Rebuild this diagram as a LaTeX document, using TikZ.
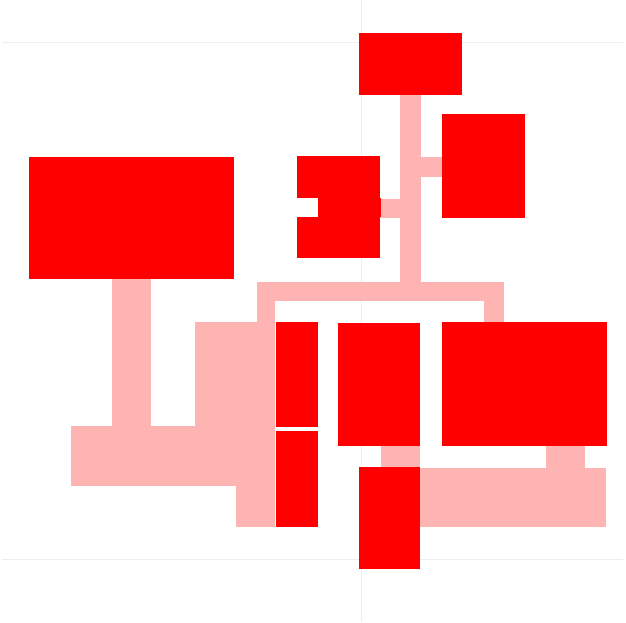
\documentclass[tikz,border=0pt]{standalone}
\usepackage{tikz}
\usepackage{xcolor}
\definecolor{roomred}{RGB}{255,0,0}
\definecolor{linkpink}{RGB}{255,180,180}
\definecolor{guidegrey}{RGB}{238,238,240}

\begin{document}
\begin{tikzpicture}[x=1pt, y=-1pt,
    room/.style={fill=roomred},
    link/.style={fill=linkpink},
    guide/.style={draw=guidegrey, line width=1pt}]

    % Frame of the picture
    \useasboundingbox (0,0) rectangle (626,622);

    % Faint guide lines
    \coordinate (G_left_top) at (2,42);
    \coordinate (G_right_top) at (623,42);
    \coordinate (G_left_bot) at (2,559);
    \coordinate (G_right_bot) at (623,559);
    \coordinate (G_top) at (361.5,0);
    \coordinate (G_bot) at (361.5,622);
    \draw[guide] (G_left_top) -- (G_right_top);
    \draw[guide] (G_left_bot) -- (G_right_bot);
    \draw[guide] (G_top) -- (G_bot);

    % Pink links (drawn first, rooms go on top)
    \fill[link] (400,95) rectangle (421,283);   % trunk
    \fill[link] (421,157) rectangle (442,177);  % to upper right room
    \fill[link] (380,199) rectangle (400,218);  % to notched room
    \fill[link] (257,282) rectangle (504,301);  % cross bar
    \fill[link] (257,301) rectangle (275,322);
    \fill[link] (484,301) rectangle (504,322);

    % Pink links on the left
    \fill[link] (112,279) rectangle (151,426);
    \fill[link] (71,426) rectangle (275,486);
    \fill[link] (195,322) rectangle (275,426);
    \fill[link] (236,486) rectangle (275,527);

    % Pink links at the bottom right
    \fill[link] (381,446) rectangle (420,467);
    \fill[link] (420,468) rectangle (606,527);
    \fill[link] (546,446) rectangle (585,468);

    % Red rooms
    \fill[room] (359,33) rectangle (462,95);
    \fill[room] (442,114) rectangle (525,218);
    \fill[room] (29,157) rectangle (234,279);

    % Notched room
    \fill[room] (297,156) rectangle (380,198);
    \fill[room] (318,198) rectangle (381,217);
    \fill[room] (297,217) rectangle (380,258);

    % Rooms below the cross bar
    \fill[room] (276,322) rectangle (318,427);
    \fill[room] (276,431) rectangle (318,527);
    \fill[room] (338,323) rectangle (420,446);
    \fill[room] (442,322) rectangle (607,446);
    \fill[room] (359,467) rectangle (420,569);

\end{tikzpicture}
\end{document}
